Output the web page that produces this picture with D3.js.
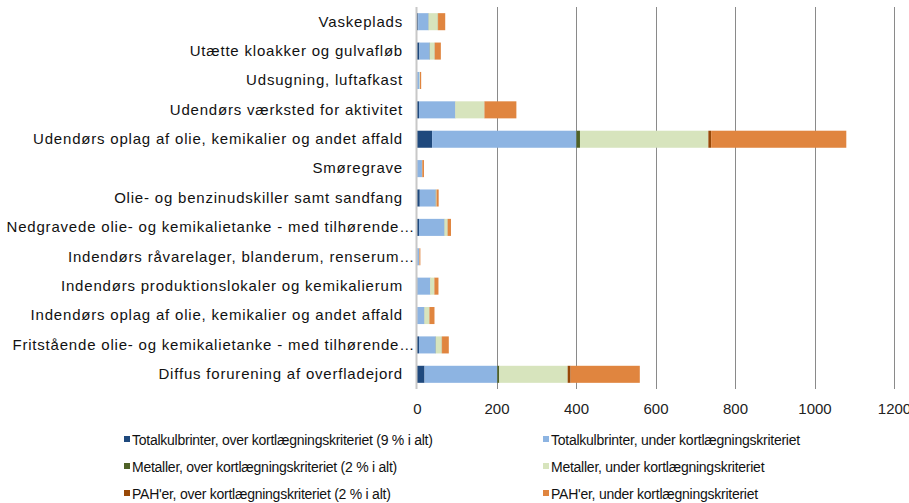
<!DOCTYPE html>
<html>
<head>
<meta charset="utf-8">
<script src="https://cdn.jsdelivr.net/npm/d3@7"></script>
<style>
  body { margin: 0; background: #fff; }
  svg { display: block; }
</style>
</head>
<body>
<svg id="chart" width="909" height="503"></svg>
<script>
const categories = [
  "Vaskeplads",
  "Utætte kloakker og gulvafløb",
  "Udsugning, luftafkast",
  "Udendørs værksted for aktivitet",
  "Udendørs oplag af olie, kemikalier og andet affald",
  "Smøregrave",
  "Olie- og benzinudskiller samt sandfang",
  "Nedgravede olie- og kemikalietanke - med tilhørende…",
  "Indendørs råvarelager, blanderum, renserum…",
  "Indendørs produktionslokaler og kemikalierum",
  "Indendørs oplag af olie, kemikalier og andet affald",
  "Fritstående olie- og kemikalietanke - med tilhørende…",
  "Diffus forurening af overfladejord"
];

const seriesNames = [
  "Totalkulbrinter, over kortlægningskriteriet (9 % i alt)",
  "Totalkulbrinter, under kortlægningskriteriet",
  "Metaller, over kortlægningskriteriet  (2 % i alt)",
  "Metaller, under kortlægningskriteriet",
  "PAH'er, over kortlægningskriteriet  (2 % i alt)",
  "PAH'er, under kortlægningskriteriet"
];

const thOver   = [3, 6, 0.5, 5, 38, 0.5, 7, 5, 0.5, 1, 0.5, 5, 19];
const thUnder  = [26, 26, 6, 91, 363, 12, 40, 64, 5, 32, 18, 42, 183];
const metOver  = [0.5, 0.5, 0, 0.5, 9, 0, 0.5, 0.5, 0, 0.5, 0.5, 0.5, 5];
const metUnder = [23, 12, 1, 73, 323, 0.5, 1.5, 7.5, 0.5, 10, 12, 15, 172];
const pahOver  = [0.5, 0.5, 0, 0.5, 7, 0.5, 0.5, 0.5, 0, 0.5, 0.5, 0.5, 7.5];
const pahUnder = [18, 15, 3, 80, 340, 4, 5, 8, 2.5, 10, 12.5, 17, 174];

const xTicks = [0, 200, 400, 600, 800, 1000, 1200];
const colors = ["#1F497D", "#8DB4E2", "#4F6228", "#D7E4BD", "#984807", "#E0853F"];

const seriesValues = [thOver, thUnder, metOver, metUnder, pahOver, pahUnder];
const rows = categories.map((c, i) => {
  const o = { cat: c };
  seriesValues.forEach((arr, k) => { o["s" + k] = arr[i]; });
  return o;
});
const keys = seriesValues.map((_, k) => "s" + k);
const stacked = d3.stack().keys(keys)(rows);

const svg = d3.select("#chart");
const mLeft = 417, mRight = 894, mTop = 7, mBottom = 389;

const x = d3.scaleLinear().domain([0, 1200]).range([mLeft, mRight]);
const y = d3.scaleBand().domain(categories).range([mTop, mBottom]).paddingInner(0.42).paddingOuter(0.21);

// gridlines
svg.append("g").selectAll("line").data(xTicks.filter(t => t > 0)).join("line")
  .attr("x1", d => Math.round(x(d)) + 0.5).attr("x2", d => Math.round(x(d)) + 0.5)
  .attr("y1", mTop).attr("y2", mBottom)
  .attr("stroke", "#8a8a8a").attr("stroke-width", 1);

// bars
svg.append("g").selectAll("g").data(stacked).join("g")
  .attr("fill", (d, i) => colors[i])
  .selectAll("rect").data(d => d).join("rect")
  .attr("x", d => x(d[0]))
  .attr("width", d => Math.max(0, x(d[1]) - x(d[0])))
  .attr("y", d => y(d.data.cat))
  .attr("height", y.bandwidth());

// y axis line
svg.append("line")
  .attr("x1", mLeft - 0.5).attr("x2", mLeft - 0.5)
  .attr("y1", mTop).attr("y2", mBottom)
  .attr("stroke", "#c8c8c8").attr("stroke-width", 2);

// x axis tick labels
const xAxis = d3.axisBottom(x).tickValues(xTicks).tickFormat(d3.format("d")).tickSize(0).tickPadding(0);
const gx = svg.append("g").attr("transform", `translate(0,${mBottom + 14})`).call(xAxis);
gx.select(".domain").remove();
gx.selectAll("text")
  .attr("font-family", "Liberation Sans, Arial, sans-serif")
  .attr("font-size", 15).attr("fill", "#222");

// y axis labels
const yAxis = d3.axisLeft(y).tickSize(0).tickPadding(14);
const gy = svg.append("g").attr("transform", `translate(${mLeft},0)`).call(yAxis);
gy.select(".domain").remove();
gy.selectAll("text")
  .attr("font-family", "Liberation Sans, Arial, sans-serif")
  .attr("font-size", 15).attr("letter-spacing", "0.8px").attr("fill", "#111")
  .attr("x", d => d.endsWith("…") ? -2 : -14);

// legend
const legX = [124, 543];
const legY = [440, 467, 494];
const leg = svg.append("g");
seriesNames.forEach((name, i) => {
  const cx = legX[i % 2], cy = legY[Math.floor(i / 2)];
  leg.append("rect").attr("x", cx).attr("y", cy - 4).attr("width", 6).attr("height", 6).attr("fill", colors[i]);
  leg.append("text").attr("x", cx + 8).attr("y", cy).attr("dy", "0.35em")
    .attr("font-family", "Liberation Sans Narrow, Arial Narrow, sans-serif")
    .attr("font-size", 14).attr("letter-spacing", "-0.25px").attr("fill", "#111").text(name);
});
</script>
</body>
</html>
